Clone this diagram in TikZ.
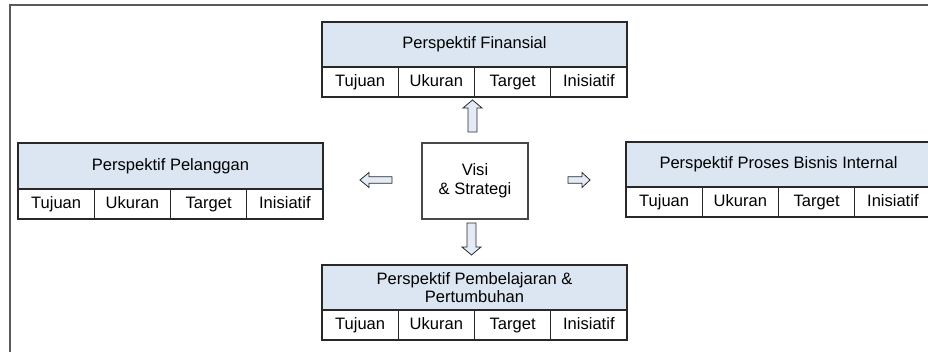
\documentclass[tikz,border=0pt]{standalone}
\usepackage{fontspec}
\setmainfont{Liberation Sans}
\definecolor{band}{RGB}{220,230,242}
\definecolor{arrfill}{RGB}{228,235,246}
\definecolor{edge}{RGB}{40,40,40}
\newcommand\persp[5]{%
  \node[titlebox, minimum height=#5*0.75pt, anchor=north west] (#1) at (#2,#3) {#4};
  \node[cellbox, anchor=north west] (#1-1) at (#1.south west) {Tujuan};
  \node[cellbox, anchor=west] (#1-2) at (#1-1.east) {Ukuran};
  \node[cellbox, anchor=west] (#1-3) at (#1-2.east) {Target};
  \node[cellbox, anchor=west] (#1-4) at (#1-3.east) {Inisiatif};
}
% #1 name, #2 tail coordinate, #3 angle, #4 length, #5 shaft half, #6 head half, #7 head length
\newcommand\blockarr[7]{%
  \begin{scope}[shift={#2}, rotate=#3]
    \draw[blockarrow] (0,-#5) -- ({#4-#7},-#5) -- ({#4-#7},-#6) -- (#4,0) -- ({#4-#7},#6) -- ({#4-#7},#5) -- (0,#5) -- cycle;
    \coordinate (#1-tip) at (#4,0);
  \end{scope}
}
\begin{document}
\begin{tikzpicture}[x=0.75pt,y=-0.75pt,
  every node/.style={font=\fontsize{12.4pt}{14pt}\selectfont, text=black},
  titlebox/.style={draw=edge, line width=0.8pt, fill=band, minimum width=305*0.75pt, inner sep=0pt, align=center, outer sep=0pt},
  cellbox/.style={draw=edge, line width=0.8pt, fill=white, minimum width=76.25*0.75pt, minimum height=30*0.75pt, inner sep=0pt, text height=9pt, text depth=2.6pt, outer sep=0pt},
  centerbox/.style={draw=edge!85, line width=0.9pt, minimum width=106*0.75pt, minimum height=76*0.75pt, align=center, inner sep=0pt},
  blockarrow/.style={draw=edge, line width=0.6pt, fill=arrfill, line join=miter},
  frameline/.style={draw=gray!70!black, line width=1.2pt}
]
\useasboundingbox (0,0) rectangle (928,352);
\coordinate (fr-tr) at (928,5);
\coordinate (fr-tl) at (10,5);
\coordinate (fr-bl) at (10,352);
\draw[frameline] (fr-tr) -- (fr-tl) -- (fr-bl);

\persp{fin}{322}{22}{Perspektif Finansial}{45}
\persp{pel}{18}{143}{Perspektif Pelanggan}{46}
\persp{int}{626}{142}{Perspektif Proses Bisnis Internal}{45}
\persp{pem}{322}{265}{Perspektif Pembelajaran \&\\Pertumbuhan}{45}

\node[centerbox] (visi) at (475,181) {Visi\\\& Strategi};

\blockarr{aup}{(472.5,132)}{90}{32}{4.5}{9.5}{8}
\blockarr{adown}{(471.5,223)}{-90}{32}{4.5}{9.5}{8}
\blockarr{aleft}{(392,180)}{180}{32}{3.3}{7.5}{9}
\blockarr{aright}{(568,180)}{0}{22}{3.3}{7.5}{8}
\end{tikzpicture}
\end{document}
